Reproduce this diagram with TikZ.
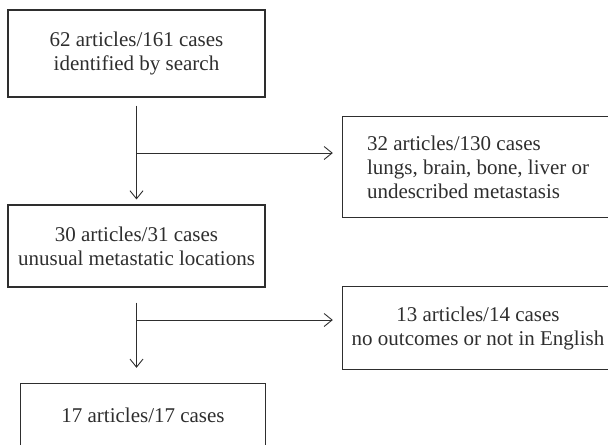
\documentclass[tikz,border=0pt]{standalone}
\usepackage{fontspec}
\setmainfont{Liberation Serif}
\usetikzlibrary{arrows.meta}
\definecolor{ink}{HTML}{2E2E2E}
\begin{document}
\begin{tikzpicture}[x=1pt,y=-1pt,
  box/.style={draw=ink,line width=1.1pt,inner sep=0pt,align=center,text=ink,
    font=\fontsize{21}{24}\selectfont},
  cut/.style={inner sep=0pt,text=ink,font=\fontsize{21}{24}\selectfont},
  cutside/.style={draw=ink,line width=1.1pt,line cap=butt},
  arr/.style={draw=ink,line width=0.9pt,-{Straight Barb[length=8pt,width=13pt,line width=0.9pt]}}]
\useasboundingbox (0,0) rectangle (608,445);
\coordinate (rx) at (608,0);
\coordinate (by) at (0,445);
\node[box,minimum width=257pt,minimum height=87pt] (b1) at (136.5,53.5)
  {62 articles/161 cases\\identified by search};
% boxes cut by the right edge of the picture
\node[cut,minimum width=265pt,minimum height=100pt] (b2) at (475.5,167) {};
\draw[cutside] (b2.north west -| rx) -- (b2.north west) -- (b2.south west) -- (b2.south west -| rx);
\node[cut,align=left,anchor=west] (b2t) at ([xshift=24pt]b2.west)
  {32 articles/130 cases\\lungs, brain, bone, liver or\\undescribed metastasis};
\node[box,minimum width=257pt,minimum height=82pt] (b3) at (136.5,246)
  {30 articles/31 cases\\unusual metastatic locations};
\node[cut,minimum width=265pt,minimum height=82pt] (b4) at (475.5,328) {};
\draw[cutside] (b4.north west -| rx) -- (b4.north west) -- (b4.south west) -- (b4.south west -| rx);
\node[cut,align=center] (b4t) at ([xshift=2.5pt]b4.center)
  {13 articles/14 cases\\no outcomes or not in English};
% box cut by the bottom edge of the picture
\node[cut,minimum width=244pt,minimum height=62pt] (b5) at (143,415)
  {17 articles/17 cases};
\draw[cutside] (b5.west |- by) -- (b5.north west) -- (b5.north east) -- (b5.east |- by);
\coordinate (j1) at (137,153);
\coordinate (j2) at (137,320);
\draw[arr] ([yshift=-8pt]b1.south) -- ([yshift=5pt]b3.north);
\draw[arr,shorten >=10pt] (j1) -- (j1 -| b2.west);
\draw[arr] ([yshift=-15pt]b3.south) -- ([yshift=16pt]b3.south |- b5.north);
\draw[arr,shorten >=10pt] (j2) -- (j2 -| b4.west);
\end{tikzpicture}
\end{document}
